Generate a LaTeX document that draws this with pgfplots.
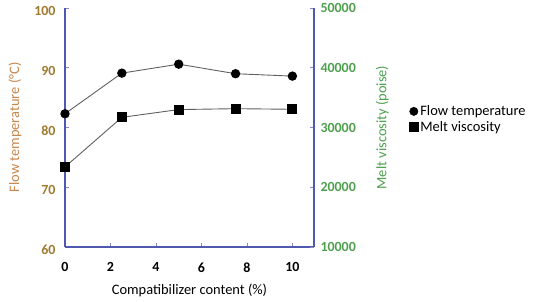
\documentclass[border=0pt]{standalone}
\usepackage{pgfplots}
\pgfplotsset{compat=1.18}
\usepackage{fontspec}
\setmainfont{Carlito}
\definecolor{axblue}{HTML}{5058B0}
\definecolor{tbrown}{HTML}{A07A2E}
\definecolor{lbrown}{HTML}{C8864A}
\definecolor{tgreen}{HTML}{4EA04E}
\definecolor{lgray}{HTML}{606060}
\begin{document}
\begin{tikzpicture}[x=1bp,y=1bp]
\pgfplotsset{
  every axis/.append style={
    scale only axis, width=249bp, height=239bp,
    at={(65bp,55bp)}, anchor=south west,
    xmin=0, xmax=10.95,
    tick align=inside, major tick length=4bp,
    tick style={axblue!70, line width=0.6pt},
    axis line style={axblue, line width=1.6pt},
    /pgf/number format/assume math mode=true,
    ticklabel style={font=\fontsize{14}{16}\selectfont\bfseries},
    label style={font=\fontsize{14.5}{17}\selectfont},
  }
}
\begin{axis}[
  axis x line*=bottom, axis y line*=left,
  ymin=60, ymax=100,
  ytick={60,70,80,90,100},
  xtick={0,2,4,6,8,10},
  yticklabel style={text=tbrown, yshift=-3bp, xshift=-6bp},
  xticklabel style={yshift=-12bp},
  ylabel={Flow temperature (°C)}, ylabel style={text=lbrown},
  ylabel shift=6bp,
  xlabel={Compatibilizer content (\%)},
  xlabel shift=5bp,
  /pgf/number format/1000 sep={},
]
\addplot[lgray, line width=0.9pt, mark=*, mark size=4.2bp, mark options={black, fill=black}]
  coordinates {(0,82.3) (2.5,89.1) (5,90.6) (7.5,89.0) (10,88.6)};
\end{axis}
\begin{axis}[
  axis y line*=right, axis x line=none,
  ymin=10000, ymax=50000,
  ytick={10000,20000,30000,40000,50000},
  yticklabel style={text=tgreen, xshift=3bp},
  scaled y ticks=false,
  /pgf/number format/1000 sep={},
  ylabel={Melt viscosity (poise)}, ylabel style={text=tgreen},
  ylabel shift=13bp,
  legend style={at={(1.37,0.535)}, anchor=west, draw=none, fill=none,
    font=\fontsize{14.5}{17}\selectfont, row sep=0bp,
    /tikz/every even column/.append style={column sep=2bp}},
  legend cell align=left,
]
\addlegendimage{only marks, mark=*, mark size=4.2bp, black}
\addlegendentry{Flow temperature}
\addlegendimage{only marks, mark=square*, mark size=4.5bp, black}
\addlegendentry{Melt viscosity}
\addplot[lgray, line width=0.9pt, mark=square*, mark size=4.5bp, mark options={black, fill=black}, forget plot]
  coordinates {(0,23400) (2.5,31700) (5,33000) (7.5,33150) (10,33050)};
\end{axis}
\pgfresetboundingbox
\path[use as bounding box] (0,0) rectangle (550bp,302bp);
\end{tikzpicture}
\end{document}
